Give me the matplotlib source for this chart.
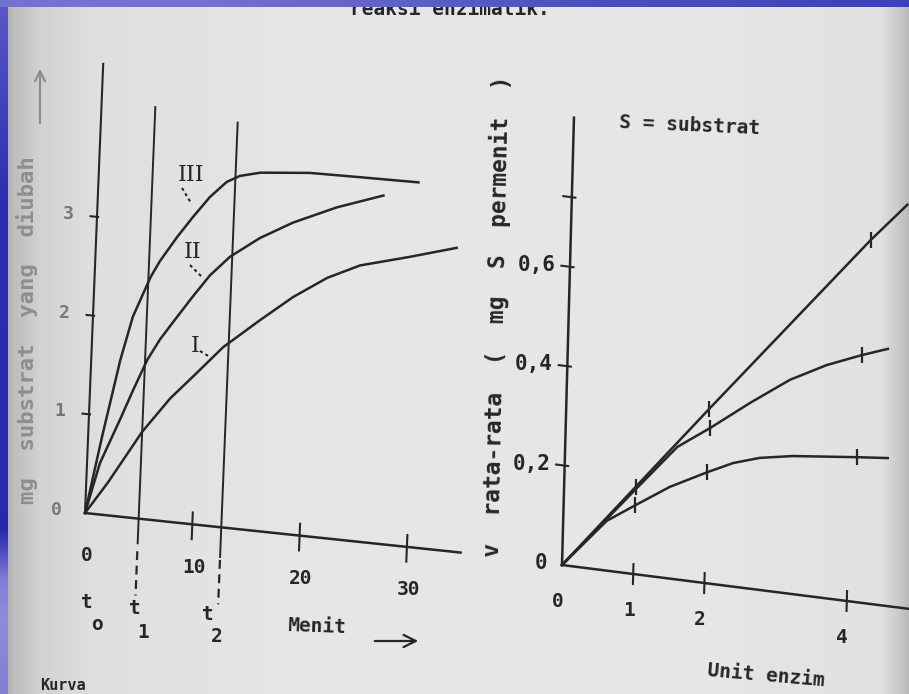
import numpy as np
import matplotlib
matplotlib.use('Agg')
from matplotlib import pyplot as plt
from matplotlib.transforms import Affine2D

# Left graph: substrate converted (mg) against time (menit)
menit_I = [0, 2.0, 5.0, 7.5, 9.5, 12.2, 15.5, 18.5, 21.6, 24.6, 29.2, 33.5]
mg_I = [0, 0.33, 0.88, 1.25, 1.49, 1.82, 2.13, 2.40, 2.63, 2.79, 2.93, 3.07]
menit_II = [0, 1.2, 2.9, 4.0, 5.2, 6.3, 7.8, 9.2, 10.7, 12.5, 15.2, 18.2, 22.2, 26.5]
mg_II = [0, 0.52, 0.98, 1.29, 1.61, 1.83, 2.075, 2.30, 2.53, 2.74, 2.96, 3.15, 3.35, 3.52]
menit_III = [0, 1.3, 2.7, 3.7, 5.2, 6.0, 7.5, 8.9, 10.4, 11.9, 13.1, 15.0, 19.6, 24.3, 29.7]
mg_III = [0, 0.79, 1.58, 2.03, 2.45, 2.62, 2.88, 3.10, 3.32, 3.49, 3.565, 3.62, 3.67, 3.68, 3.69]
t_lines = [5.0, 12.7]
t_tops = [4.17, 4.10]
menit_ticks = [10, 20, 30]
menit_labels = ['0', '10', '20', '30']
mg_ticks = [1, 2, 3]
mg_labels = ['0', '1', '2', '3']

# Right graph: mean velocity against enzyme units
enzim_A = [0, 1, 2, 4.2, 4.7]
v_A = [0, 0.175, 0.35, 0.73, 0.81]
enzim_B = [0, 1.0, 1.57, 2.02, 2.57, 3.12, 3.63, 4.12, 4.48]
v_B = [0, 0.17, 0.266, 0.312, 0.3725, 0.429, 0.468, 0.497, 0.516]
enzim_C = [0, 0.61, 1.0, 1.48, 2.0, 2.36, 2.73, 3.19, 4.09, 4.52]
v_C = [0, 0.10, 0.138, 0.184, 0.223, 0.248, 0.265, 0.277, 0.291, 0.297]
marks_A = [1, 2, 3]
marks_B = [3, 7]
marks_C = [2, 4, 8]
enzim_ticks = [1, 2, 4]
v_ticks = [0.2, 0.4, 0.6, 0.74]
v_labels = ['0,2', '0,4', '0,6', '']

ink = '#262626'
mono = ['DejaVu Sans Mono']

fig = plt.figure(figsize=(9.09, 6.94), dpi=100)
ax = fig.add_axes([0, 0, 1, 1])
ax.set_xlim(0, 909)
ax.set_ylim(694, 0)
ax.axis('off')

# paper scan background
gx = [0, 8, 14, 40, 90, 300, 700, 880, 896, 909]
gv = [0.70, 0.70, 0.74, 0.82, 0.87, 0.90, 0.90, 0.88, 0.80, 0.72]
row = np.interp(np.arange(909), gx, gv)
ax.imshow(np.tile(row, (694, 1)), cmap='gray', vmin=0, vmax=1,
          extent=(0, 909, 694, 0), aspect='auto', zorder=0)

# blue slide frame
by = [0, 200, 530, 580, 620, 694]
bc = np.array([[0.35, 0.35, 0.78], [0.18, 0.18, 0.70], [0.16, 0.16, 0.68],
               [0.50, 0.50, 0.84], [0.55, 0.55, 0.86], [0.50, 0.50, 0.82]])
col = np.stack([np.interp(np.arange(694), by, bc[:, k]) for k in range(3)], axis=1)
ax.imshow(col[:, None, :], extent=(0, 8, 694, 0), aspect='auto', zorder=6)
tx = [0, 200, 600, 909]
tc = np.array([[0.45, 0.45, 0.82], [0.45, 0.45, 0.82], [0.30, 0.30, 0.76], [0.25, 0.25, 0.74]])
top = np.stack([np.interp(np.arange(909), tx, tc[:, k]) for k in range(3)], axis=1)
ax.imshow(top[None, :, :], extent=(0, 909, 7, 0), aspect='auto', zorder=6)

# skewed panels as in the scanned page
tr_left = Affine2D().from_values(10.73, 1.13, 4.0, -98.7, 85, 513) + ax.transData
tr_right = Affine2D().from_values(71.2, 9.0, 13.3, -497, 562, 565) + ax.transData

lw = 1.8
# ---- left graph ----
ax.plot([0, 35], [0, 0], color=ink, lw=lw, transform=tr_left)
ax.plot([0, 0], [0, 4.55], color=ink, lw=1.5, transform=tr_left)
for m in menit_ticks:
    ax.plot([m, m], [-0.15, 0.12], color=ink, lw=1.5, transform=tr_left)
for v in mg_ticks:
    ax.plot([-0.6, 0.1], [v, v], color=ink, lw=1.5, transform=tr_left)
for x, y in [(menit_I, mg_I), (menit_II, mg_II), (menit_III, mg_III)]:
    ax.plot(x, y, color=ink, lw=lw, solid_joinstyle='round', transform=tr_left)
for t, h, d0 in zip(t_lines, t_tops, [-0.25, -0.3]):
    ax.plot([t, t], [d0, h], color=ink, lw=1.4, transform=tr_left)
    ax.plot([t, t], [-0.33, -0.78], color=ink, lw=1.6, ls=(0, (4, 2.5)), transform=tr_left)

for m, s in zip([0] + menit_ticks, menit_labels):
    ax.text(m + 0.3, -0.43, s, transform=tr_left, ha='center', va='center',
            family=mono, weight='bold', fontsize=14, color=ink)
for v, s in zip([0] + mg_ticks, mg_labels):
    ax.text(-2.7, v, s, transform=tr_left, ha='center', va='center',
            family=mono, weight='bold', fontsize=13, color='#777777')

for s, x, y in [('t', 87, 602), ('o', 97, 624), ('t', 135, 609), ('1', 143, 632),
                ('t', 208, 614), ('2', 217, 636)]:
    ax.text(x, y, s, ha='center', va='center', family=mono, weight='bold',
            fontsize=14, color=ink)
ax.text(317, 627, 'Menit', ha='center', va='center', family=mono, weight='bold',
        fontsize=14, color=ink, rotation=-2)
ax.annotate('', xy=(421, 641), xytext=(372, 641),
            arrowprops=dict(arrowstyle='->', color=ink, lw=1.6, mutation_scale=22))

for s, x, y, lead in [('III', 191, 175, [(182, 188), (191, 203)]),
                      ('II', 193, 252, [(190, 265), (203, 278)]),
                      ('I', 195, 346, [(200, 351), (210, 357)])]:
    ax.text(x, y, s, ha='center', va='center', family=['DejaVu Serif'],
            fontsize=16, color=ink)
    ax.plot([lead[0][0], lead[1][0]], [lead[0][1], lead[1][1]], color=ink,
            lw=1.5, ls=(0, (1.5, 1.5)))

ax.text(27, 330, 'mg  substrat  yang  diubah', rotation=90, ha='center', va='center',
        family=mono, weight='bold', fontsize=16, color='#8e8e8e')
ax.annotate('', xy=(40, 66), xytext=(40, 126),
            arrowprops=dict(arrowstyle='->', color='#8e8e8e', lw=1.6, mutation_scale=18))

# ---- right graph ----
ax.plot([0, 4.9], [0, 0], color=ink, lw=lw, transform=tr_right)
ax.plot([0, 0], [0, 0.9], color=ink, lw=lw, transform=tr_right)
for e in enzim_ticks:
    ax.plot([e, e], [-0.02, 0.02], color=ink, lw=1.5, transform=tr_right)
for v in v_ticks:
    ax.plot([-0.12, 0.05], [v, v], color=ink, lw=1.5, transform=tr_right)
for x, y, mk in [(enzim_A, v_A, marks_A), (enzim_B, v_B, marks_B), (enzim_C, v_C, marks_C)]:
    ax.plot(x, y, color=ink, lw=lw, marker='|', markersize=11, mew=1.6,
            markevery=mk, solid_joinstyle='round', transform=tr_right)

for e, s in zip([0] + enzim_ticks, ['0', '1', '2', '4']):
    ax.text(e - 0.05, -0.075, s, transform=tr_right, ha='center', va='center',
            family=mono, weight='bold', fontsize=14, color=ink)
for v, s in zip([0] + v_ticks, ['0'] + v_labels):
    ax.text(-0.2, v, s, transform=tr_right, ha='right', va='center',
            family=mono, weight='bold', fontsize=15, color=ink)

ax.text(497, 316, 'v  rata-rata  (  mg  S  permenit  )', rotation=88.8,
        ha='center', va='center', family=mono, weight='bold', fontsize=16.5, color=ink)
ax.text(690, 126, 'S = substrat', ha='center', va='center', family=mono,
        weight='bold', fontsize=14, color=ink, rotation=-2.5)
ax.text(766, 676, 'Unit enzim', ha='center', va='center', family=mono,
        weight='bold', fontsize=14, color=ink, rotation=-5)

# cut-off lines of the page
ax.text(550, 9, 'reaksi enzimatik.', ha='right', va='center', family=mono,
        weight='bold', fontsize=14, color=ink, zorder=3)
ax.text(40, 693, 'Kurva', ha='left', va='bottom', family=mono,
        weight='bold', fontsize=11, color=ink)

fig.savefig('out.png', dpi=100)
